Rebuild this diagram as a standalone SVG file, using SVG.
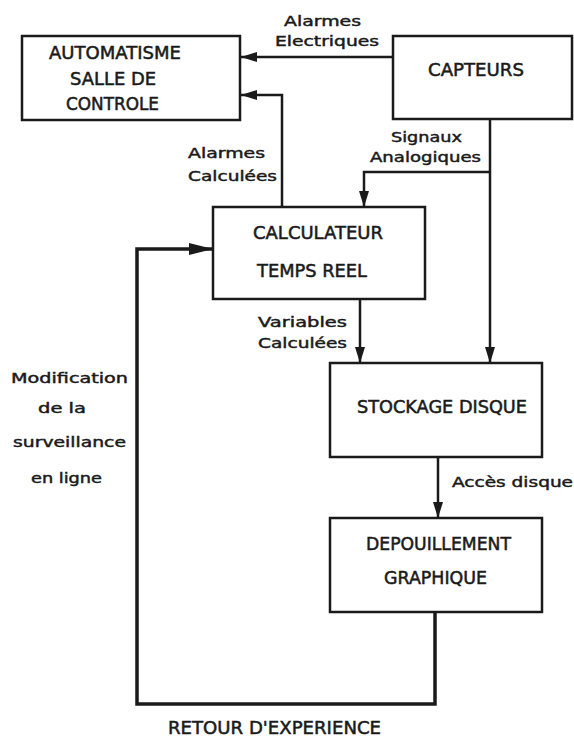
<svg xmlns="http://www.w3.org/2000/svg" width="574" height="737" viewBox="0 0 574 737">
<style>
.box{fill:#fff;stroke:#1a1a1a;stroke-width:2.5}
.n{font-family:"DejaVu Sans",sans-serif;font-size:17px;fill:#1a1a1a;stroke:#1a1a1a;stroke-width:0.5}
.l{font-family:"DejaVu Sans",sans-serif;font-size:14px;fill:#1a1a1a;stroke:#1a1a1a;stroke-width:0.45}
.c{fill:none;stroke:#1a1a1a;stroke-width:2.5}
.fb{fill:none;stroke:#1a1a1a;stroke-width:3.5}
</style>
<defs>
<marker id="ah" markerUnits="userSpaceOnUse" markerWidth="16" markerHeight="10" refX="16" refY="5" orient="auto">
<path d="M0,0 L16,5 L0,10 Z" fill="#1a1a1a"/>
</marker>
<marker id="ahb" markerUnits="userSpaceOnUse" markerWidth="24" markerHeight="12" refX="24" refY="6" orient="auto">
<path d="M0,0 L24,6 L0,12 Z" fill="#1a1a1a"/>
</marker>
</defs>
<rect width="574" height="737" fill="#fff"/>
<g id="connectors">
<line class="c" x1="393" y1="57" x2="241" y2="57" marker-end="url(#ah)"/>
<polyline class="c" points="282,207 282,95 241,95" marker-end="url(#ah)"/>
<line class="c" x1="490" y1="119" x2="490" y2="363" marker-end="url(#ah)"/>
<polyline class="c" points="490,172 364,172 364,207" marker-end="url(#ah)"/>
<line class="c" x1="360" y1="299" x2="360" y2="363" marker-end="url(#ah)"/>
<line class="c" x1="438" y1="457" x2="438" y2="518" marker-end="url(#ah)"/>
<polyline class="fb" points="435,612 435,704 137,704 137,249 213,249" marker-end="url(#ahb)"/>
<text class="l" x="284" y="26" textLength="77" lengthAdjust="spacingAndGlyphs">Alarmes</text>
<text class="l" x="275" y="46" textLength="104" lengthAdjust="spacingAndGlyphs">Electriques</text>
<text class="l" x="391" y="142" textLength="71" lengthAdjust="spacingAndGlyphs">Signaux</text>
<text class="l" x="370" y="162" textLength="111" lengthAdjust="spacingAndGlyphs">Analogiques</text>
<text class="l" x="188" y="158" textLength="77" lengthAdjust="spacingAndGlyphs">Alarmes</text>
<text class="l" x="188" y="181" textLength="89" lengthAdjust="spacingAndGlyphs">Calculées</text>
<text class="l" x="258" y="327" textLength="89" lengthAdjust="spacingAndGlyphs">Variables</text>
<text class="l" x="258" y="348" textLength="89" lengthAdjust="spacingAndGlyphs">Calculées</text>
<text class="l" x="452" y="487" textLength="121" lengthAdjust="spacingAndGlyphs">Accès disque</text>
<text class="l" x="11" y="383" textLength="117" lengthAdjust="spacingAndGlyphs">Modification</text>
<text class="l" x="38" y="413" textLength="48" lengthAdjust="spacingAndGlyphs">de la</text>
<text class="l" x="13" y="447" textLength="113" lengthAdjust="spacingAndGlyphs">surveillance</text>
<text class="l" x="31" y="483" textLength="71" lengthAdjust="spacingAndGlyphs">en ligne</text>
<text class="n" x="168" y="734" textLength="213" lengthAdjust="spacingAndGlyphs">RETOUR D'EXPERIENCE</text>
</g>
<g id="automatisme">
<rect class="box" x="22" y="36" width="218" height="84"/>
<text class="n" x="49" y="59" textLength="132" lengthAdjust="spacingAndGlyphs">AUTOMATISME</text>
<text class="n" x="70" y="85" textLength="86" lengthAdjust="spacingAndGlyphs">SALLE DE</text>
<text class="n" x="66" y="110" textLength="93" lengthAdjust="spacingAndGlyphs">CONTROLE</text>
</g>
<g id="capteurs">
<rect class="box" x="393" y="36" width="179" height="83"/>
<text class="n" x="428" y="76" textLength="96" lengthAdjust="spacingAndGlyphs">CAPTEURS</text>
</g>
<g id="calculateur">
<rect class="box" x="213" y="207" width="212" height="92"/>
<text class="n" x="253" y="239" textLength="130" lengthAdjust="spacingAndGlyphs">CALCULATEUR</text>
<text class="n" x="257" y="277" textLength="110" lengthAdjust="spacingAndGlyphs">TEMPS REEL</text>
</g>
<g id="stockage">
<rect class="box" x="330" y="363" width="212" height="94"/>
<text class="n" x="357" y="413" textLength="170" lengthAdjust="spacingAndGlyphs">STOCKAGE DISQUE</text>
</g>
<g id="depouillement">
<rect class="box" x="330" y="518" width="212" height="94"/>
<text class="n" x="366" y="550" textLength="145" lengthAdjust="spacingAndGlyphs">DEPOUILLEMENT</text>
<text class="n" x="384" y="584" textLength="103" lengthAdjust="spacingAndGlyphs">GRAPHIQUE</text>
</g>
</svg>
